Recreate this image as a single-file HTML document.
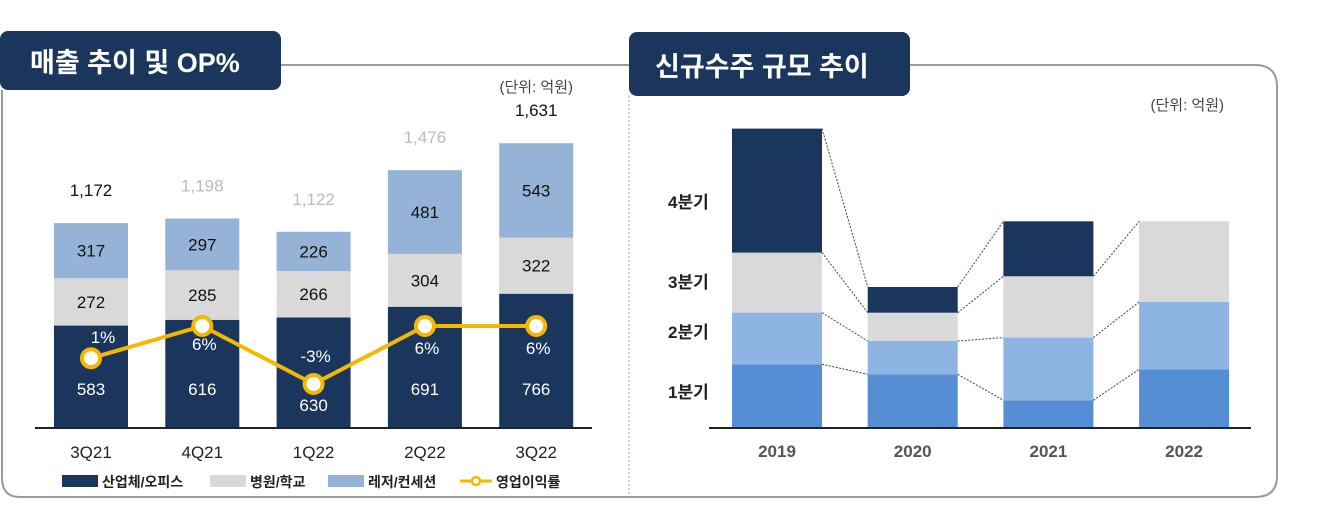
<!DOCTYPE html>
<html><head><meta charset="utf-8"><style>
body{margin:0;background:#fff;width:1321px;height:514px;overflow:hidden;font-family:"Liberation Sans","Noto Sans CJK KR",sans-serif;}
svg text{font-family:"Liberation Sans","Noto Sans CJK KR",sans-serif;}
</style></head><body>
<svg width="1321" height="514">
<g id="frame">
<path d="M280,65 H1255 Q1277,65 1277,87 V476 Q1277,497 1255,497 H20 Q2,497 2,478 V90" fill="none" stroke="#9a9a9a" stroke-width="2"/>
<line x1="629" y1="96" x2="629" y2="497" stroke="#aaa" stroke-width="1" stroke-dasharray="2,2"/>
</g>
<g>
<rect x="0" y="31" width="281" height="59" rx="8" fill="#1b365d"/>
<text x="30" y="72" fill="#fff" font-size="27" font-weight="bold">매출 추이 및 OP%</text>
</g>
<g>
<rect x="629" y="32" width="281" height="64" rx="8" fill="#1b365d"/>
<text x="655" y="76" fill="#fff" font-size="27" font-weight="bold">신규수주 규모 추이</text>
</g>
<text x="573" y="92" text-anchor="end" font-size="15" fill="#444">(단위: 억원)</text>
<text x="1224" y="110" text-anchor="end" font-size="15" fill="#444">(단위: 억원)</text>
<g id="left"></g>
<g id="right"></g>
</svg>
<script>
const quarters=['3Q21','4Q21','1Q22','2Q22','3Q22'];
const industry=[583,616,630,691,766];
const hospital=[272,285,266,304,322];
const leisure=[317,297,226,481,543];
const totals=['1,172','1,198','1,122','1,476','1,631'];
const opMargin=[1,6,-3,6,6];
const opLabels=['1%','6%','-3%','6%','6%'];

const years=['2019','2020','2021','2022'];
const q1=[627,527,267,577];
const q2=[517,333,627,673];
const q3=[600,283,613,807];
const q4=[1240,257,550,0];

const NS='http://www.w3.org/2000/svg';
function mk(parent,tag,attrs,txt){const e=document.createElementNS(NS,tag);for(const k in attrs)e.setAttribute(k,attrs[k]);if(txt!==undefined)e.textContent=txt;parent.appendChild(e);return e;}

// left chart
const L=document.getElementById('left');
const base=427, ky=0.174;
const xL=i=>54+i*111.3, bw=74;
const yL=v=>base-v*ky;
const yOP=p=>326+(6-p)*6.44;
const segColors=['#1b365d','#d9d9d9','#95b3d7'];
const series=[industry,hospital,leisure];
const totalColors=['#111','#bbb','#bbb','#bbb','#111'];
for(let i=0;i<quarters.length;i++){
  let cum=0;
  for(let s=0;s<3;s++){
    const v=series[s][i];
    const r=mk(L,'rect',{x:xL(i),y:yL(cum+v),width:bw,height:v*ky,fill:segColors[s]});
    
    
    let ly=(yL(cum)+yL(cum+v))/2+6;
    if(s===0) ly=yL(cum)-(i===2?16:32);
    const t=mk(L,'text',{x:xL(i)+bw/2,y:ly,'text-anchor':'middle','font-size':17,fill:s===0?'#fff':'#111'},v);
    
    
    cum+=v;
  }
  const tt=mk(L,'text',{x:xL(i)+bw/2,y:yL(cum)-27,'text-anchor':'middle','font-size':17,fill:totalColors[i]},totals[i]);
  
  
  const xl=mk(L,'text',{x:xL(i)+bw/2,y:458,'text-anchor':'middle','font-size':17,fill:'#222'},quarters[i]);
  
  
}
mk(L,'line',{x1:35,y1:base+1,x2:592,y2:base+1,stroke:'#222','stroke-width':2});
let pts=quarters.map((q,i)=>(xL(i)+bw/2)+','+yOP(opMargin[i])).join(' ');
const pl=mk(L,'polyline',{points:pts,fill:'none',stroke:'#f5b800','stroke-width':4});


for(let i=0;i<quarters.length;i++){
  const cx=xL(i)+bw/2, cy=yOP(opMargin[i]);
  const c=mk(L,'circle',{cx:cx,cy:cy,r:9,fill:'#fff',stroke:'#f5b800','stroke-width':4});
  
  
  const dx=i===0?12:2, dy=i===0?-15:(i===2?-22:i===1?24:28);
  const t=mk(L,'text',{x:cx+dx,y:cy+dy,'text-anchor':'middle','font-size':17,fill:'#fff'},opLabels[i]);
  
  
}
// legend
const lg=[['#1b365d','산업체/오피스',62],['#d9d9d9','병원/학교',210],['#95b3d7','레저/컨세션',328]];
lg.forEach(d=>{
  const r=mk(L,'rect',{x:d[2],y:475,width:36,height:12,fill:d[0]});
  
  
  const t=mk(L,'text',{x:d[2]+40,y:487,'font-size':14,'font-weight':'bold',fill:'#222'},d[1]);
  
  
});
mk(L,'line',{x1:460,y1:481,x2:492,y2:481,stroke:'#f5b800','stroke-width':3});
mk(L,'circle',{cx:476,cy:481,r:4,fill:'#fff',stroke:'#f5b800','stroke-width':2.5});
const lt=mk(L,'text',{x:496,y:487,'font-size':14,'font-weight':'bold',fill:'#222'},'영업이익률');



// right chart
const R=document.getElementById('right');
const rb=427, rk=0.1, rw=90;
const xR=i=>732+i*135.7;
const yR=v=>rb-v*rk;
const rColors=['#558ed5','#8eb4e3','#d9d9d9','#1b365d'];
const rs=[q1,q2,q3,q4];
const cums=years.map((y,i)=>{let c=0;return rs.map(s=>c+=s[i]);});
for(let i=0;i<years.length;i++){
  let c=0;
  for(let s=0;s<4;s++){
    const v=rs[s][i]; if(!v){continue;}
    const r=mk(R,'rect',{x:xR(i),y:yR(c+v),width:rw,height:v*rk,fill:rColors[s]});
    
    
    c+=v;
  }
  const t=mk(R,'text',{x:xR(i)+rw/2,y:457,'text-anchor':'middle','font-size':17,'font-weight':'bold',fill:'#555'},years[i]);
  
  
}
for(let i=0;i<years.length-1;i++){
  for(let s=0;s<4;s++){
    if(!rs[s][i+1]) continue;
    const l=mk(R,'line',{x1:xR(i)+rw,y1:yR(cums[i][s]),x2:xR(i+1),y2:yR(cums[i+1][s]),stroke:'#444','stroke-width':1,'stroke-dasharray':'2,1.5'});
    
    
  }
}
mk(R,'line',{x1:709,y1:rb+1,x2:1251,y2:rb+1,stroke:'#222','stroke-width':2});
const qLabels=['1분기','2분기','3분기','4분기'];
const qLabelY=[398,338,288,208];
qLabels.forEach((q,k)=>{
  const t=mk(R,'text',{x:668,y:qLabelY[k],'font-size':17,'font-weight':'bold',fill:'#222'},q);
  
  
});
</script>
</body></html>
